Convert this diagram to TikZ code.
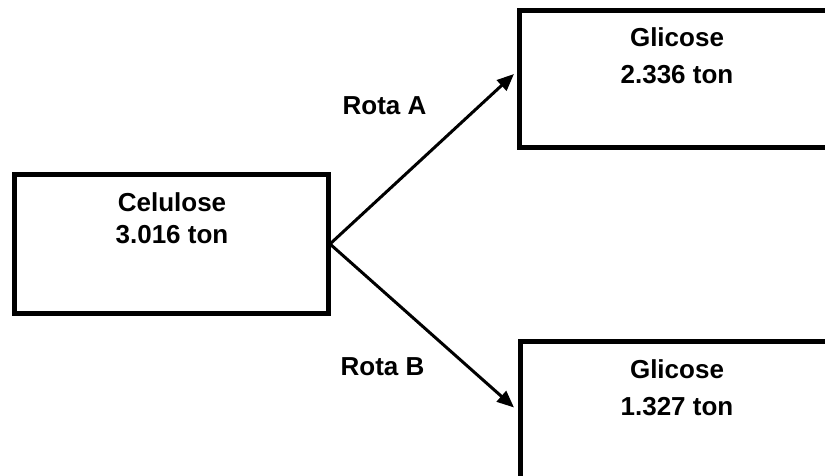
\documentclass[tikz,border=0pt]{standalone}
\usepackage{fontspec}
\setmainfont{Liberation Sans}
\usetikzlibrary{arrows.meta}
\begin{document}
\begin{tikzpicture}[x=1pt,y=-1pt,
  box/.style={draw=black,line width=5pt,line join=miter},
  txt/.style={font=\bfseries\fontsize{26}{32}\selectfont,anchor=base,inner sep=0pt},
  flow/.style={line width=3pt,-{Triangle[length=17pt,width=14pt]}}]
  \useasboundingbox (0,0) rectangle (825,476);
  \clip (0,0) rectangle (825,476);
  % boxes
  \draw[box] (14.5,174.5) rectangle (328,313.5);
  \draw[box] (519,10.5) rectangle (850,148);
  \draw[box] (520,341) rectangle (850,500);
  \coordinate (cel) at (330,244);
  \coordinate (gA) at (514,74);
  \coordinate (gB) at (514,407.5);
  % labels
  \node[txt] (c1) at (172,211.5) {Celulose};
  \node[txt] (c2) at (172,243.5) {3.016 ton};
  \node[txt] (a1) at (677,47) {Glicose};
  \node[txt] (a2) at (677,83.5) {2.336 ton};
  \node[txt] (b1) at (677,378.5) {Glicose};
  \node[txt] (b2) at (677,415) {1.327 ton};
  \node[txt] (ra) at (384.5,115) {Rota A};
  \node[txt] (rb) at (382.5,375) {Rota B};
  % arrows
  \draw[flow] (cel) -- (gA);
  \draw[flow] (cel) -- (gB);
\end{tikzpicture}
\end{document}
